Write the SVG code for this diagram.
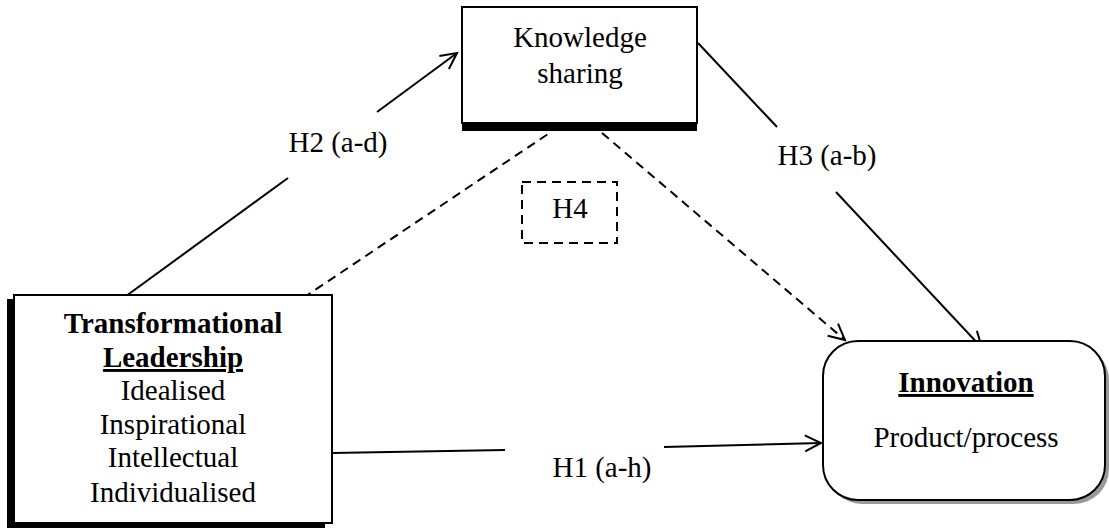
<svg xmlns="http://www.w3.org/2000/svg" width="1109" height="528" viewBox="0 0 1109 528">
<style>
text{font-family:'Liberation Serif','DejaVu Serif',serif;font-size:29px;fill:#000}
.b{font-weight:bold}
.box{fill:#fff;stroke:#000;stroke-width:2}
.ln{stroke:#000;stroke-width:2;fill:none}
.dash{stroke-dasharray:9,6}
</style>
<defs>
<marker id="arr" markerUnits="userSpaceOnUse" markerWidth="24" markerHeight="24" viewBox="-18 -12 24 24" refX="0" refY="0" orient="auto" overflow="visible">
<path d="M-16,-8 L0,0 L-16,8" fill="none" stroke="#000" stroke-width="2"/>
</marker>
</defs>
<g font-family="Liberation Serif, DejaVu Serif, serif">
<g id="connectors">
<line class="ln" x1="122" y1="299" x2="288" y2="178"/>
<line class="ln" x1="377" y1="112" x2="457" y2="53" marker-end="url(#arr)"/>
<line class="ln" x1="698" y1="43" x2="777" y2="127"/>
<line class="ln" x1="836" y1="192" x2="982" y2="348" marker-end="url(#arr)"/>
<line class="ln dash" x1="303" y1="298" x2="548" y2="134"/>
<line class="ln dash" x1="602" y1="133" x2="845" y2="340" marker-end="url(#arr)"/>
<line class="ln" x1="332" y1="453" x2="505" y2="450"/>
<line class="ln" x1="664" y1="447" x2="821" y2="443" marker-end="url(#arr)"/>
<text x="338" y="152" text-anchor="middle" font-family="Liberation Serif, serif">H2 (a-d)</text>
<text x="827" y="165" text-anchor="middle" font-family="Liberation Serif, serif">H3 (a-b)</text>
<text x="602" y="477" text-anchor="middle" font-family="Liberation Serif, serif">H1 (a-h)</text>
</g>
<g id="knowledge">
<rect x="462" y="14" width="235" height="117" fill="#000"/>
<rect class="box" x="462" y="7" width="235" height="116"/>
<text x="580" y="47" text-anchor="middle" font-family="Liberation Serif, serif">Knowledge</text>
<text x="580" y="83" text-anchor="middle" font-family="Liberation Serif, serif">sharing</text>
</g>
<g id="h4">
<rect class="ln dash" x="522" y="182" width="95" height="61" fill="none"/>
<text x="570" y="218" text-anchor="middle" font-family="Liberation Serif, serif">H4</text>
</g>
<g id="transformational">
<rect x="7" y="299" width="318" height="229" fill="#000"/>
<rect class="box" x="14" y="295" width="318" height="228"/>
<text class="b" x="173" y="333" text-anchor="middle" font-family="Liberation Serif, serif">Transformational</text>
<text class="b" x="173" y="367" text-anchor="middle" text-decoration="underline" font-family="Liberation Serif, serif">Leadership</text>
<text x="173" y="400" text-anchor="middle" font-family="Liberation Serif, serif">Idealised</text>
<text x="173" y="434" text-anchor="middle" font-family="Liberation Serif, serif">Inspirational</text>
<text x="173" y="467" text-anchor="middle" font-family="Liberation Serif, serif">Intellectual</text>
<text x="173" y="502" text-anchor="middle" font-family="Liberation Serif, serif">Individualised</text>
</g>
<g id="innovation">
<rect x="827" y="345" width="282" height="159" rx="35" fill="#999"/>
<rect class="box" x="823" y="341" width="282" height="159" rx="35" stroke-width="3"/>
<text class="b" x="966" y="392" text-anchor="middle" text-decoration="underline" font-family="Liberation Serif, serif">Innovation</text>
<text x="966" y="447" text-anchor="middle" font-family="Liberation Serif, serif">Product/process</text>
</g>
</g>
</svg>
